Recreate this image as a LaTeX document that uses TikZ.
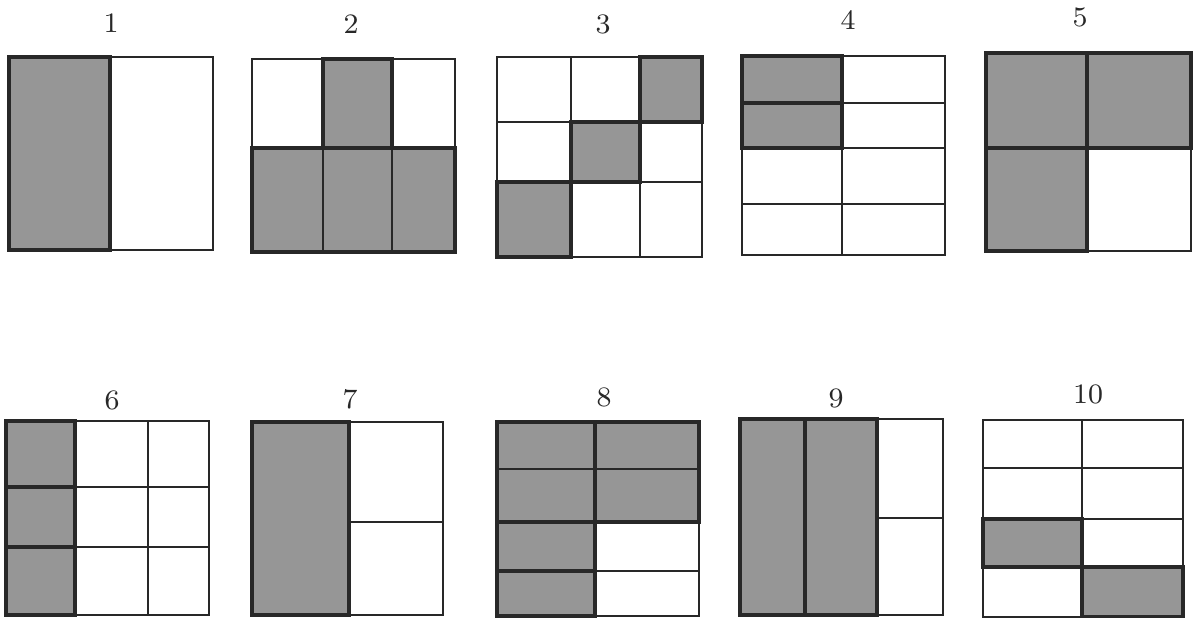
\documentclass[tikz,border=0pt]{standalone}
\definecolor{ink}{RGB}{40,40,40}
\definecolor{shade}{RGB}{150,150,150}
\tikzset{
  every picture/.style={color=ink, line width=0.6pt},
  num/.style={font=\fontsize{8}{9.6}\selectfont, text=ink, inner sep=0pt},
  cell/.style={fill=shade, draw=ink, line width=0.9pt},
  frame/.style={draw=ink, line width=0.6pt},
  split/.style={draw=ink, line width=0.5pt},
}

\begin{document}
\begin{tikzpicture}[x=0.01cm, y=-0.01cm]
  \useasboundingbox (0,0) rectangle (1196,618);

  % numbers over the squares
  \foreach \n/\x/\y in {1/111/23, 2/351/24, 3/603/24, 4/848/20, 5/1080/17,
                        6/112/400, 7/350/399, 8/604/397, 9/836/398, 10/1088/394}
    \node[num] (n\n) at (\x,\y) {\n};

  % square 1
  \path[cell] (9,57) rectangle (110,250);
  \draw[frame] (9,57) rectangle (213,250);

  % square 2
  \path[cell] (323,59) rectangle (392,148);
  \path[cell] (252,148) rectangle (455,252);
  \draw[split] (323,59) -- (323,252) (392,59) -- (392,252) (252,148) -- (455,148);
  \draw[frame] (252,59) rectangle (455,252);

  % square 3
  \path[cell] (640,57) rectangle (702,122);
  \path[cell] (571,122) rectangle (640,182);
  \path[cell] (497,182) rectangle (571,257);
  \draw[split] (571,57) -- (571,257) (640,57) -- (640,257)
               (497,122) -- (702,122) (497,182) -- (702,182);
  \draw[frame] (497,57) rectangle (702,257);

  % square 4
  \path[cell] (742,56) rectangle (842,103);
  \path[cell] (742,103) rectangle (842,148);
  \draw[split] (842,56) -- (842,255) (742,103) -- (945,103)
               (742,148) -- (945,148) (742,204) -- (945,204);
  \draw[frame] (742,56) rectangle (945,255);

  % square 5
  \path[cell] (986,53) rectangle (1087,148);
  \path[cell] (1087,53) rectangle (1191,148);
  \path[cell] (986,148) rectangle (1087,251);
  \draw[frame] (986,53) rectangle (1191,251);

  % square 6
  \path[cell] (6,421) rectangle (75,487);
  \path[cell] (6,487) rectangle (75,547);
  \path[cell] (6,547) rectangle (75,615);
  \draw[split] (75,421) -- (75,615) (148,421) -- (148,615)
               (6,487) -- (209,487) (6,547) -- (209,547);
  \draw[frame] (6,421) rectangle (209,615);

  % square 7
  \path[cell] (252,422) rectangle (349,615);
  \draw[split] (349,522) -- (443,522);
  \draw[frame] (252,422) rectangle (443,615);

  % square 8
  \path[cell] (497,422) rectangle (595,522);
  \path[cell] (595,422) rectangle (699,522);
  \path[cell] (497,522) rectangle (595,571);
  \path[cell] (497,571) rectangle (595,616);
  \draw[split] (497,469) -- (699,469) (595,522) -- (699,522) (595,571) -- (699,571);
  \draw[frame] (497,422) rectangle (699,616);

  % square 9
  \path[cell] (740,419) rectangle (805,615);
  \path[cell] (805,419) rectangle (877,615);
  \draw[split] (877,518) -- (943,518);
  \draw[frame] (740,419) rectangle (943,615);

  % square 10
  \path[cell] (983,519) rectangle (1082,567);
  \path[cell] (1082,567) rectangle (1183,617);
  \draw[split] (1082,420) -- (1082,617) (983,468) -- (1183,468)
               (983,519) -- (1183,519) (983,567) -- (1183,567);
  \draw[frame] (983,420) rectangle (1183,617);
\end{tikzpicture}
\end{document}
